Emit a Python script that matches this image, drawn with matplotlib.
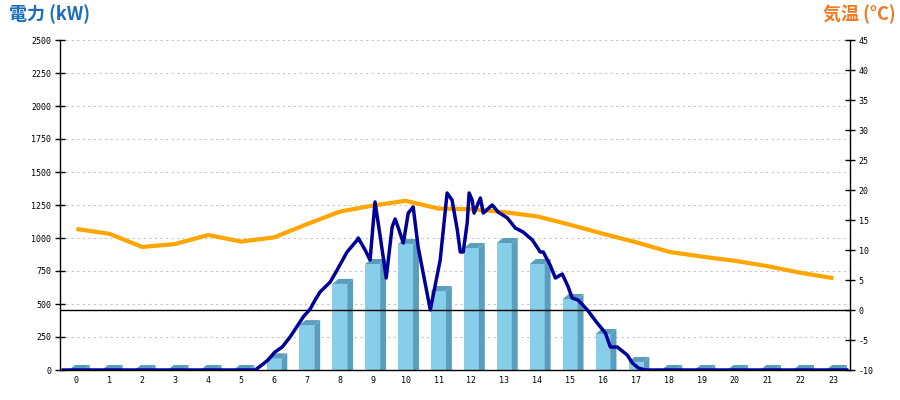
import matplotlib
matplotlib.use('Agg')
import matplotlib.pyplot as plt
from matplotlib.patches import Polygon

# ---------------- data ----------------
hours = list(range(24))
hour_labels = [str(h) for h in hours]
power_bars = [0, 0, 0, 0, 0, 0, 88, 340, 652, 803, 955, 598, 924, 962, 803, 538, 273, 61,
              0, 0, 0, 0, 0, 0]
temperature = [13.5, 12.7, 10.5, 11.0, 12.5, 11.4, 12.1, 14.3, 16.4, 17.4, 18.2, 16.9,
               16.8, 16.3, 15.6, 14.2, 12.7, 11.3, 9.7, 8.9, 8.2, 7.3, 6.2, 5.3]
power_time = [0.1, 5.93, 6.17, 6.32, 6.53, 6.75, 6.99, 7.23, 7.39, 7.60, 7.75, 7.90, 8.21,
              8.42, 8.72, 9.03, 9.06, 9.27, 9.42, 9.57, 9.73, 9.91, 10.09, 10.18, 10.27,
              10.43, 10.58, 10.73, 10.88, 11.25, 11.55, 11.76, 11.91, 12.07, 12.16, 12.25,
              12.37, 12.43, 12.52, 12.58, 12.77, 12.86, 13.13, 13.31, 13.59, 13.83, 14.07,
              14.35, 14.59, 14.68, 14.89, 15.05, 15.26, 15.44, 15.56, 15.74, 16.02, 16.32,
              16.57, 16.72, 16.93, 17.23, 17.39, 17.57, 17.78, 23.9]
power_kw = [0, 0, 45, 76, 136, 174, 250, 341, 402, 462, 530, 591, 667,
            758, 894, 985, 1000, 909, 833, 1273, 1008, 697, 1083, 1144, 1083,
            962, 1189, 1235, 932, 455, 833, 1341, 1288, 1061, 894, 894,
            1114, 1341, 1288, 1189, 1303, 1189, 1250, 1197, 1152, 1076, 1045,
            985, 894, 894, 795, 697, 727, 629, 545, 530, 455, 356,
            280, 174, 174, 114, 53, 15, 0, 0]
power_ticks = list(range(0, 2501, 250))
temp_ticks = list(range(-10, 46, 5))

# ---------------- style ----------------
FRONT = '#87CEEB'
SIDE = '#5A9EBD'
NAVY = '#000099'
ORANGE = '#FFA500'
tick_font = dict(family='DejaVu Sans Mono', size=6)

fig = plt.figure(figsize=(9, 4), dpi=100)
rect = [60 / 900, 30 / 400, 790 / 900, 330 / 400]
ax1 = fig.add_axes(rect)
ax2 = ax1.twinx()
ax3 = fig.add_axes(rect, sharex=ax1, sharey=ax1)
ax3.set_axis_off()
ax3.patch.set_visible(False)

ax1.set_xlim(0, 24)
ax1.set_ylim(0, 2500)
ax2.set_ylim(-10, 45)

# grid (left scale)
ax1.set_yticks(power_ticks)
ax1.set_yticklabels([str(v) for v in power_ticks], **tick_font)
for v in power_ticks[1:]:
    ax1.axhline(v, color='#c4c4c4', lw=0.8, ls=(0, (2, 3)), zorder=0)

# 3D bars
w = 0.45
dx = 0.18
dy = 38
centers = [h + 0.5 for h in hours]
ax1.bar(centers, power_bars, width=w, color=FRONT, zorder=2, linewidth=0)
for c, v in zip(centers, power_bars):
    xl, xr = c - w / 2, c + w / 2
    side = Polygon([(xr, 0), (xr, v), (xr + dx, v + dy), (xr + dx, 0)],
                   closed=True, facecolor=SIDE, edgecolor='none', zorder=2)
    top = Polygon([(xl, v), (xr, v), (xr + dx, v + dy), (xl + dx, v + dy)],
                  closed=True, facecolor=SIDE, edgecolor='none', zorder=2)
    ax1.add_patch(side)
    ax1.add_patch(top)

# temperature
ax2.axhline(0, color='black', lw=1.0, zorder=1)
ax2.plot(centers, temperature, color=ORANGE, lw=3.0, zorder=2, solid_capstyle='butt')
ax2.set_yticks(temp_ticks)
ax2.set_yticklabels([str(v) for v in temp_ticks], **tick_font)

# power line
ax3.plot(power_time, power_kw, color=NAVY, lw=2.5, zorder=3, solid_joinstyle='round')

# axes styling
ax1.set_xticks(centers)
ax1.set_xticklabels(hour_labels, **tick_font)
ax1.tick_params(axis='x', length=0, pad=4)
ax1.tick_params(axis='y', direction='inout', length=6.5, width=1, pad=3)
ax2.tick_params(axis='y', direction='inout', length=6.5, width=1, pad=3)
for a in (ax1, ax2):
    a.spines['top'].set_visible(False)
    for s in ('left', 'right', 'bottom'):
        a.spines[s].set_linewidth(1.0)
ax2.spines['left'].set_visible(False)
ax2.spines['bottom'].set_visible(False)
ax1.spines['right'].set_visible(False)

fig.text(9 / 900, 1 - 4 / 400, '電力 (kW)', color='#1a6fb8', fontsize=13, fontweight='bold',
         family=['Noto Sans CJK JP', 'DejaVu Sans'], ha='left', va='top')
fig.text(1 - 4 / 900, 1 - 4 / 400, '気温 (°C)', color='#EE7A22', fontsize=13, fontweight='bold',
         family=['Noto Sans CJK JP', 'DejaVu Sans'], ha='right', va='top')

fig.savefig('out.png', dpi=100)
